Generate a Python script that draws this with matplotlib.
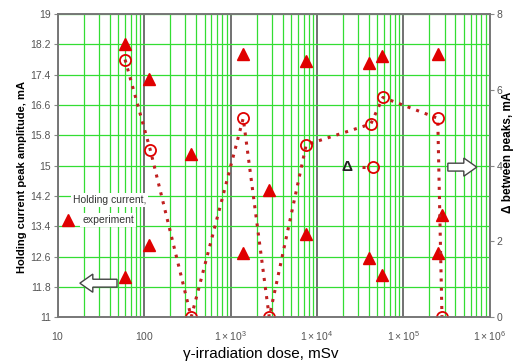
#Libraries
import matplotlib.pyplot as plt
from matplotlib.patches import FancyArrow
from matplotlib.ticker import LogLocator, NullFormatter

plt.rcParams['font.family'] = ['Liberation Sans', 'DejaVu Sans']

#Data
dose_hi = [60, 115, 350, 1400, 7500, 40000, 57000, 250000]
hold_hi = [18.2, 17.3, 15.3, 17.95, 17.75, 17.7, 17.9, 17.95]
dose_lo = [60, 115, 1400, 2800, 7500, 40000, 57000, 250000, 280000]
hold_lo = [12.05, 12.9, 12.7, 14.35, 13.2, 12.55, 12.1, 12.7, 13.7]
delta_dose = [60, 118, 350, 1400, 2800, 7500, 42000, 58000, 250000, 280000]
delta = [6.8, 4.4, 0, 5.25, 0, 4.55, 5.1, 5.8, 5.25, 0]

x_ticks = [10, 100, 1e3, 1e4, 1e5, 1e6]
x_labels = [r'$\mathregular{10}$', r'$\mathregular{100}$',
            r'$\mathregular{1\times10^{3}}$', r'$\mathregular{1\times10^{4}}$',
            r'$\mathregular{1\times10^{5}}$', r'$\mathregular{1\times10^{6}}$']
left_ticks = [11, 11.8, 12.6, 13.4, 14.2, 15, 15.8, 16.6, 17.4, 18.2, 19]
left_labels = ['11', '11.8', '12.6', '13.4', '14.2', '15', '15.8', '16.6', '17.4', '18.2', '19']
right_ticks = [0, 2, 4, 6, 8]

green = '#33dd33'
gray = '#555555'
red = '#e00000'
dotred = '#c02020'

fig = plt.figure(figsize=(5.21, 3.62), dpi=100)
ax = fig.add_axes([0.111, 0.124, 0.829, 0.837])
ax2 = ax.twinx()

#Holding current triangles (left axis)
ax.plot(dose_hi, hold_hi, '^', color=red, markersize=8, zorder=5)
ax.plot(dose_lo, hold_lo, '^', color=red, markersize=8, zorder=5)

#Delta between peaks (right axis)
ax2.plot(delta_dose, delta, color=dotred, linestyle=(0, (1, 2)), linewidth=2.2,
         marker='o', markersize=8, markerfacecolor='none', markeredgecolor=red,
         markeredgewidth=1.3)

ax.set_xscale('log')
ax.set_xlim(10, 1e6)
ax.set_ylim(11, 19)
ax2.set_ylim(0, 8)

ax.set_xticks(x_ticks)
ax.set_xticklabels(x_labels)
ax.xaxis.set_minor_locator(LogLocator(base=10, subs=range(2, 10)))
ax.xaxis.set_minor_formatter(NullFormatter())
ax.set_yticks(left_ticks)
ax.set_yticklabels(left_labels)
ax2.set_yticks(right_ticks)

#Grid
ax.grid(True, which='minor', axis='x', color=green, linewidth=0.9)
ax.grid(True, which='major', axis='x', color='#666666', linewidth=1.3)
ax.grid(True, which='major', axis='y', color=green, linewidth=0.9)
ax.set_axisbelow(True)

for a in (ax, ax2):
    for s in a.spines.values():
        s.set_color('#777777')
        s.set_linewidth(1.2)
ax.tick_params(axis='x', which='major', length=0, pad=9, labelsize=7.5, labelcolor=gray)
ax.tick_params(axis='x', which='minor', length=0)
ax.tick_params(axis='y', length=3, color='#888888', labelsize=7.5, labelcolor=gray, pad=2)
ax2.tick_params(axis='y', length=3, color='#888888', labelsize=7.5, labelcolor=gray, pad=2)

#Labels
fig.text(0.5, 0.022, 'γ-irradiation dose, mSv', ha='center', va='center', fontsize=11)
fig.text(0.042, 0.51, 'Holding current peak amplitude, mA', rotation=90,
         ha='center', va='center', fontsize=8, fontweight='bold')
fig.text(0.975, 0.578, 'Δ between peaks, mA', rotation=90,
         ha='center', va='center', fontsize=8.5, fontweight='bold')

#Legend-like annotations
ax.text(0.035, 0.386, 'Holding current,', transform=ax.transAxes, fontsize=7.5,
        color='#333333', va='center', ha='left',
        bbox=dict(facecolor='white', edgecolor='none', pad=1.5), zorder=6)
ax.text(0.056, 0.32, 'experiment', transform=ax.transAxes, fontsize=7.5,
        color='#333333', va='center', ha='left',
        bbox=dict(facecolor='white', edgecolor='none', pad=1.5), zorder=6)
ax.plot([0.023], [0.32], '^', color=red, markersize=8, transform=ax.transAxes,
        clip_on=False, zorder=7)

ax.text(0.669, 0.495, 'Δ', transform=ax.transAxes, fontsize=11, fontweight='bold',
        ha='center', va='center', color='#222222', zorder=6)
ax.plot([0.705, 0.717], [0.495, 0.495], color=dotred, linestyle=(0, (1, 2)),
        linewidth=2.2, transform=ax.transAxes, zorder=6)
ax.plot([0.729], [0.495], 'o', markersize=8, markerfacecolor='none',
        markeredgecolor=red, markeredgewidth=1.3, transform=ax.transAxes, zorder=6)

#Hollow arrows
ax.add_patch(FancyArrow(0.137, 0.112, -0.086, 0, width=0.026, head_width=0.06,
                        head_length=0.03, length_includes_head=True,
                        transform=ax.transAxes, facecolor='white',
                        edgecolor='#444444', linewidth=1, zorder=6))
ax.add_patch(FancyArrow(0.903, 0.495, 0.067, 0, width=0.026, head_width=0.06,
                        head_length=0.03, length_includes_head=True,
                        transform=ax.transAxes, facecolor='white',
                        edgecolor='#444444', linewidth=1, zorder=6))

plt.savefig('out.png', dpi=100)
